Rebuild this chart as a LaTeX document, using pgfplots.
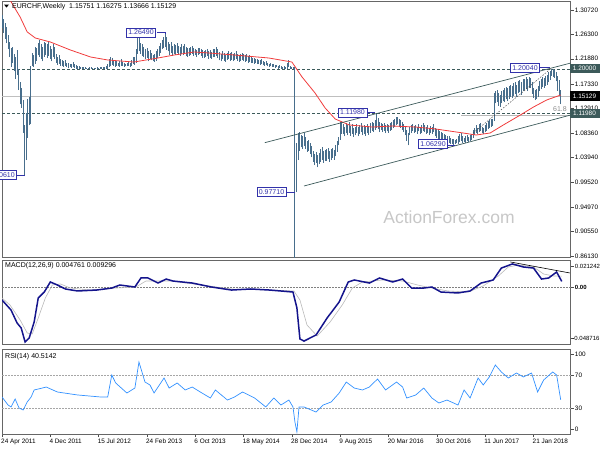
\documentclass[border=0pt]{standalone}
\usepackage{pgfplots}
\pgfplotsset{compat=1.18}
\usepackage{pgfplotstable}
\usepackage{fontspec}
\setmainfont{Liberation Sans}
\definecolor{barc}{RGB}{72,110,140}
\definecolor{maline}{RGB}{240,60,60}
\definecolor{slate}{RGB}{60,90,90}
\definecolor{labc}{RGB}{50,50,170}
\definecolor{macdc}{RGB}{20,20,140}
\definecolor{sigc}{RGB}{185,185,185}
\definecolor{rsic}{RGB}{50,145,255}
\newcommand\fs{\fontsize{7}{8}\selectfont}
\newcommand\ts{\fontsize{6.4}{7.5}\selectfont}

\pgfplotstableread{
lo hi
1.274 1.298
1.266 1.290
1.255 1.283
1.247 1.276
1.236 1.262
1.222 1.250
1.204 1.238
1.212 1.240
1.196 1.228
1.182 1.222
1.190 1.235
1.162 1.200
1.136 1.176
1.130 1.165
1.085 1.144
1.006 1.098
1.035 1.120
1.075 1.145
1.098 1.150
1.100 1.205
1.205 1.230
1.204 1.225
1.210 1.240
1.215 1.238
1.225 1.248
1.222 1.253
1.218 1.245
1.214 1.240
1.222 1.250
1.226 1.248
1.220 1.245
1.224 1.250
1.219 1.242
1.214 1.236
1.222 1.245
1.218 1.240
1.212 1.228
1.208 1.222
1.210 1.226
1.206 1.218
1.205 1.216
1.204 1.214
1.206 1.217
1.204 1.212
1.202 1.211
1.203 1.210
1.202 1.209
1.203 1.213
1.202 1.209
1.201 1.207
1.201 1.206
1.2005 1.2055
1.2005 1.2040
1.2005 1.2035
1.2005 1.2045
1.2005 1.2030
1.2005 1.2025
1.2005 1.2020
1.2005 1.2035
1.2005 1.2030
1.2005 1.2020
1.2005 1.2025
1.2005 1.2020
1.2005 1.2030
1.2005 1.2025
1.2005 1.2035
1.2005 1.2045
1.2005 1.2040
1.2005 1.2030
1.2008 1.2060
1.2010 1.2095
1.204 1.218
1.205 1.222
1.208 1.220
1.206 1.216
1.204 1.214
1.206 1.215
1.205 1.212
1.204 1.214
1.206 1.218
1.205 1.213
1.204 1.211
1.205 1.210
1.205 1.212
1.206 1.215
1.204 1.212
1.206 1.216
1.210 1.222
1.208 1.222
1.212 1.236
1.228 1.258
1.232 1.256
1.228 1.248
1.224 1.245
1.222 1.240
1.218 1.236
1.220 1.238
1.214 1.232
1.218 1.234
1.216 1.230
1.214 1.226
1.213 1.228
1.215 1.232
1.220 1.236
1.224 1.242
1.230 1.248
1.236 1.252
1.238 1.258
1.240 1.2649
1.235 1.258
1.232 1.250
1.226 1.246
1.229 1.249
1.224 1.242
1.228 1.246
1.226 1.244
1.230 1.247
1.226 1.242
1.224 1.240
1.228 1.245
1.225 1.242
1.228 1.246
1.224 1.240
1.222 1.238
1.224 1.238
1.226 1.240
1.228 1.242
1.224 1.238
1.225 1.237
1.222 1.235
1.226 1.238
1.228 1.239
1.224 1.236
1.221 1.234
1.220 1.232
1.222 1.234
1.224 1.237
1.219 1.233
1.221 1.234
1.218 1.231
1.222 1.236
1.222 1.236
1.224 1.240
1.220 1.236
1.216 1.231
1.214 1.228
1.218 1.232
1.215 1.229
1.213 1.226
1.217 1.230
1.219 1.233
1.215 1.229
1.217 1.231
1.214 1.227
1.216 1.229
1.218 1.232
1.215 1.228
1.213 1.226
1.215 1.228
1.217 1.230
1.215 1.228
1.213 1.225
1.215 1.227
1.212 1.224
1.213 1.225
1.211 1.222
1.212 1.221
1.210 1.220
1.211 1.219
1.209 1.218
1.210 1.217
1.208 1.216
1.209 1.218
1.207 1.214
1.206 1.213
1.207 1.215
1.205 1.212
1.204 1.210
1.205 1.211
1.203 1.209
1.204 1.210
1.202 1.207
1.203 1.208
1.201 1.206
1.202 1.207
1.201 1.205
1.2005 1.2045
1.201 1.206
1.2005 1.2040
1.201 1.212
1.204 1.216
1.2005 1.206
1.2005 1.2045
1.2005 1.2035
0.850 1.2040
0.9771 1.066
1.035 1.084
1.052 1.086
1.058 1.080
1.055 1.078
1.060 1.084
1.055 1.077
1.050 1.070
1.052 1.072
1.046 1.066
1.040 1.060
1.032 1.052
1.026 1.047
1.030 1.050
1.022 1.045
1.028 1.048
1.032 1.055
1.036 1.058
1.030 1.052
1.034 1.054
1.034 1.056
1.038 1.057
1.032 1.052
1.035 1.055
1.039 1.057
1.036 1.054
1.042 1.062
1.050 1.070
1.062 1.077
1.072 1.104
1.083 1.104
1.082 1.100
1.078 1.096
1.084 1.102
1.080 1.098
1.085 1.104
1.079 1.097
1.083 1.100
1.077 1.094
1.080 1.096
1.084 1.101
1.078 1.095
1.082 1.098
1.086 1.103
1.080 1.097
1.083 1.099
1.079 1.095
1.084 1.100
1.081 1.097
1.085 1.102
1.088 1.104
1.086 1.102
1.090 1.108
1.094 1.1198
1.092 1.112
1.086 1.104
1.090 1.102
1.086 1.100
1.088 1.103
1.084 1.099
1.087 1.101
1.085 1.098
1.088 1.102
1.090 1.104
1.094 1.108
1.096 1.110
1.098 1.113
1.100 1.113
1.096 1.110
1.094 1.108
1.090 1.105
1.086 1.100
1.080 1.096
1.070 1.090
1.062 1.084
1.080 1.095
1.084 1.098
1.088 1.100
1.084 1.097
1.086 1.099
1.083 1.096
1.087 1.100
1.082 1.096
1.085 1.098
1.088 1.102
1.086 1.099
1.083 1.096
1.085 1.098
1.081 1.094
1.084 1.097
1.082 1.095
1.086 1.100
1.078 1.094
1.076 1.092
1.074 1.089
1.072 1.087
1.070 1.086
1.072 1.085
1.068 1.082
1.070 1.081
1.067 1.079
1.066 1.078
1.065 1.075
1.064 1.074
1.0629 1.073
1.064 1.072
1.066 1.074
1.065 1.078
1.068 1.082
1.070 1.084
1.067 1.079
1.068 1.076
1.066 1.078
1.070 1.081
1.068 1.077
1.070 1.080
1.072 1.082
1.076 1.090
1.080 1.094
1.084 1.098
1.082 1.094
1.086 1.100
1.088 1.102
1.084 1.096
1.082 1.094
1.086 1.098
1.088 1.102
1.092 1.106
1.094 1.108
1.096 1.110
1.097 1.110
1.106 1.157
1.138 1.160
1.140 1.162
1.134 1.156
1.131 1.154
1.138 1.160
1.142 1.163
1.140 1.166
1.145 1.168
1.142 1.165
1.146 1.170
1.150 1.172
1.147 1.169
1.152 1.174
1.155 1.177
1.150 1.172
1.156 1.178
1.158 1.180
1.154 1.176
1.160 1.182
1.162 1.183
1.164 1.185
1.160 1.182
1.166 1.186
1.166 1.184
1.155 1.176
1.148 1.166
1.144 1.162
1.146 1.164
1.150 1.170
1.160 1.178
1.164 1.182
1.168 1.185
1.166 1.184
1.170 1.188
1.172 1.190
1.176 1.194
1.180 1.196
1.188 1.2004
1.186 1.200
1.184 1.199
1.178 1.195
1.160 1.188
1.152 1.180
1.13666 1.16275
}\bars

\begin{document}
\begin{tikzpicture}
\path[use as bounding box] (0,0) rectangle (600pt,-450pt);
\pgfplotsset{panel/.style={scale only axis, width=565pt, xmin=0, xmax=376.67,
  axis line style={draw=black!60, line width=0.6pt}, tick align=outside,
  major tick length=3pt, tick style={draw=black!70, line width=0.5pt},
  ytick pos=right, yticklabel pos=right, scaled y ticks=false,
  yticklabel style={font=\ts, anchor=west, inner sep=0pt, xshift=1pt},
  clip=true}}

% ---------------- main price panel
\begin{axis}[panel, at={(2pt,-1pt)}, anchor=north west, height=256pt,
  ymin=0.8595, ymax=1.32351, xtick=\empty,
  ytick={0.8613,0.9055,0.9497,0.9952,1.0394,1.0836,1.1291,1.1733,1.2188,1.2630,1.3072},
  yticklabels={0.86130,0.90550,0.94970,0.99520,1.03940,1.08360,1.12910,1.17330,1.21880,1.26300,1.30720}]
\addplot[black!25, line width=0.6pt, forget plot] coordinates {(0,1.15129) (376.67,1.15129)};
\addplot[slate, dash pattern=on 3pt off 2pt, line width=0.6pt, forget plot] coordinates {(0,1.2) (376.67,1.2)};
\addplot[slate, dash pattern=on 3pt off 2pt, line width=0.6pt, forget plot] coordinates {(0,1.1198) (376.67,1.1198)};
\addplot[black!28, line width=1.2pt, forget plot] coordinates {(304,1.116) (376.67,1.116)};
\addplot[draw=none, mark=none, forget plot,
  error bars/.cd, y dir=plus, y explicit, error mark=none,
  error bar style={line width=0.9pt, draw=barc, solid}]
  table[x expr=\coordindex, y=lo, y error expr=\thisrow{hi}-\thisrow{lo}] {\bars};
\addplot[maline, line width=0.8pt, forget plot] coordinates {
(2,1.3525) (5.3,1.3253) (12,1.2945) (16.7,1.2674) (22,1.2565) (32,1.2492) (45.3,1.2347)
(58.7,1.2220) (70,1.2166) (87.3,1.2129) (103.3,1.2202) (114,1.2256) (127.3,1.2311)
(136.7,1.2293) (154,1.2256) (176.7,1.2202) (192,1.2129) (198.7,1.1858) (207.3,1.1568)
(214,1.1296) (220.7,1.1096) (230,1.0988) (245.3,1.0951) (258.7,1.0969) (274,1.0951)
(287.3,1.0915) (305.3,1.0843) (314,1.0806) (323.3,1.0843) (332,1.0988) (343.3,1.1169)
(352,1.1314) (360.7,1.1441) (370,1.1531)};
\addplot[slate, line width=0.7pt, forget plot] coordinates {(174,1.0667) (376.67,1.2111)};
\addplot[slate, line width=0.7pt, forget plot] coordinates {(200,0.9882) (376.67,1.1169)};
\addplot[black!70, dash pattern=on 1.5pt off 1.5pt, line width=0.5pt, forget plot] coordinates {(312,1.0843) (364,1.2020)};
\end{axis}

% ---------------- MACD panel
\begin{axis}[panel, at={(2pt,-260pt)}, anchor=north west, height=84pt,
  ymin=-0.04872, ymax=0.02308, xtick=\empty,
  ytick={-0.0436,0,0.01795}, yticklabels={\hspace*{-2.5pt}-0.048716,\textbf{0.00},0.021242},
  yticklabel style={font=\fontsize{6}{7}\selectfont, xshift=0pt}]
\addplot[black!50, dash pattern=on 1.5pt off 1.5pt, line width=0.5pt, forget plot] coordinates {(0,0) (376.67,0)};
\addplot[sigc, line width=0.6pt, forget plot] coordinates {
(0,-0.0094) (5.3,-0.0154) (12,-0.0282) (16.7,-0.0393) (20,-0.0402) (24,-0.0265) (28.7,-0.0094)
(33.3,0.0017) (38.7,0.0026) (45.3,-0.0009) (58.7,-0.0026) (75.3,-0.0009) (88.7,0) (95.3,0.0051)
(102,0.0051) (112,0.0051) (132,0.0017) (152,-0.0017) (178.7,-0.0026) (193.3,-0.0034)
(197.3,-0.0111) (202,-0.0325) (208.7,-0.0419) (217.3,-0.0299) (225.3,-0.0154) (232,-0.0009)
(238.7,0.0043) (252,0.0060) (265.3,0.0051) (275.3,0.0017) (284.7,-0.0009) (295.3,-0.0034)
(308.7,-0.0043) (318.7,0.0009) (328.7,0.0094) (335.3,0.0171) (342,0.0188) (352,0.0171)
(358.7,0.0111) (365.3,0.0094) (370.7,0.0093)};
\addplot[macdc, line width=1.5pt, forget plot] coordinates {
(0,-0.0111) (6,-0.0197) (10,-0.0308) (12.7,-0.0350) (15.3,-0.0470) (18,-0.0436) (21.3,-0.0299)
(24,-0.0094) (28,-0.0043) (32,0.0043) (36.7,0.0017) (42,-0.0017) (50,-0.0034) (62.7,-0.0026)
(72.7,-0.0009) (78,0.0017) (88,0.0) (92,0.0077) (96.7,0.0077) (103.3,0.0034) (108.7,0.0068)
(113.3,0.0051) (126,0.0034) (138.7,0.0) (152,-0.0026) (164.7,-0.0017) (177.3,-0.0026)
(192.7,-0.0043) (195.3,-0.0179) (197.3,-0.0444) (200,-0.0462) (208,-0.0410) (215.3,-0.0265)
(223.3,-0.0128) (229.3,0.0043) (233.3,0.0060) (243.3,0.0034) (250,0.0077) (258.7,0.0043)
(265.3,0.0068) (271.3,-0.0009) (279.3,-0.0009) (284.7,0.0) (290.7,-0.0043) (302,-0.0051)
(310,-0.0034) (317.3,0.0034) (325.3,0.0060) (330.7,0.0162) (338,0.0197) (345.3,0.0171)
(352,0.0162) (357.3,0.0068) (362,0.0077) (367.3,0.0128) (370.7,0.0048)};
\addplot[black, line width=0.6pt, forget plot] coordinates {(336.7,0.0214) (376,0.0120)};
\end{axis}

% ---------------- RSI panel
\begin{axis}[panel, at={(2pt,-349.5pt)}, anchor=north west, height=84.5pt,
  ymin=0, ymax=100,
  ytick={5.9,30,70,94.7}, yticklabels={0,30,70,100},
  xtick={0,32,...,352},
  xticklabels={24 Apr 2011,4 Dec 2011,15 Jul 2012,24 Feb 2013,6 Oct 2013,18 May 2014,28 Dec 2014,9 Aug 2015,20 Mar 2016,30 Oct 2016,11 Jun 2017,21 Jan 2018},
  xtick pos=bottom,
  xticklabel style={font=\ts, anchor=north west, inner sep=0pt, xshift=-1pt, yshift=-1.5pt}]
\addplot[black!35, dash pattern=on 1.5pt off 1.5pt, line width=0.5pt, forget plot] coordinates {(0,70) (376.67,70)};
\addplot[black!35, dash pattern=on 1.5pt off 1.5pt, line width=0.5pt, forget plot] coordinates {(0,30) (376.67,30)};
\addplot[rsic, line width=0.7pt, forget plot] coordinates {
(0,43.8) (4,34.3) (6,32.0) (8.7,41.4) (11.3,30.8) (14,28.4) (16.7,37.9) (19.3,43.8) (21.3,52.1)
(26.7,54.4) (29.3,55.6) (36.7,49.7) (50,46.2) (65.3,43.8) (70,43.8) (72.7,69.8) (75.3,60.4)
(82.7,48.5) (88,54.4) (90.7,85.2) (94.7,61.5) (98,58.0) (100.7,48.5) (107.3,66.3) (110.7,54.4)
(116,60.4) (121.3,52.1) (126,55.6) (131.3,49.7) (138,42.6) (141.3,52.1) (149.3,40.2) (154,43.8)
(159.3,49.7) (167.3,42.6) (174.7,32.0) (180,42.6) (184.7,34.3) (190,40.2) (192.7,32.0) (194,14.2)
(195.3,2.4) (196.7,32.0) (200,32.0) (208,26.0) (212.7,34.3) (218,37.9) (223.3,48.5) (228,61.5)
(233.3,54.4) (238.7,52.1) (243.3,55.6) (248.7,65.1) (254,52.1) (261.3,61.5) (265.3,55.6)
(268,42.6) (274,46.2) (279.3,54.4) (284.7,42.6) (289.3,36.7) (294.7,40.2) (302,34.3) (306,52.1)
(310,42.6) (315.3,66.3) (318.7,58.0) (322.7,67.5) (326.7,81.7) (330.7,73.4) (335.3,66.3)
(340.7,72.2) (345.3,67.5) (350.7,72.2) (354.7,49.7) (358.7,63.9) (364.7,73.4) (367.3,69.8)
(370,40.5)};
\end{axis}

% ---------------- annotations (pixel coordinates)
\begin{scope}[x=1pt,y=-1pt, font=\fs,
  lbox/.style={draw=labc, fill=white, text=labc, inner xsep=2pt, inner ysep=1pt, line width=0.6pt, minimum height=9pt},
  rbox/.style={text=white, font=\ts, inner xsep=1.5pt, inner ysep=1pt, minimum height=9.5pt, minimum width=30pt}]
\fill[black] (4,4.5) -- (9,4.5) -- (6.5,7.5) -- cycle;
\node[anchor=west, inner sep=0pt] at (12,6.5) {EURCHF,Weekly\ \ 1.15751 1.16275 1.13666 1.15129};
\node[text=black!22, font=\fontsize{17.5}{20}\selectfont] at (449,217.5) {ActionForex.com};
\node[anchor=west, inner sep=0pt] at (5,266) {MACD(12,26,9) 0.004761 0.009296};
\node[anchor=west, inner sep=0pt] at (5,357) {RSI(14) 40.5142};
\node[text=black!45, anchor=east, inner sep=0pt] at (567,109.5) {61.8};
% level labels
\draw[labc, line width=0.6pt] (157,32) -- (165,32) -- (165,34);
\node[lbox] at (141,32.5) {1.26490};
\draw[labc, line width=0.6pt] (16,175) -- (25,175);
\node[lbox, anchor=east] at (17,175) {1.00610};
\draw[labc, line width=0.6pt] (286,192) -- (295,192);
\node[lbox] at (271.5,192) {0.97710};
\draw[labc, line width=0.6pt] (367,112) -- (375,112);
\node[lbox] at (352.5,112.5) {1.11980};
\draw[labc, line width=0.6pt] (447,145) -- (455,145);
\node[lbox] at (433,144) {1.06290};
\draw[labc, line width=0.6pt] (539,67.5) -- (550,67.5);
\node[lbox] at (525,68) {1.20040};
% price scale boxes
\node[rbox, fill=slate] at (584.5,68.3) {1.20000};
\node[rbox, fill=black] at (584.5,96) {1.15129};
\node[rbox, fill=slate] at (584.5,113.3) {1.11980};
\end{scope}
\end{tikzpicture}
\end{document}
